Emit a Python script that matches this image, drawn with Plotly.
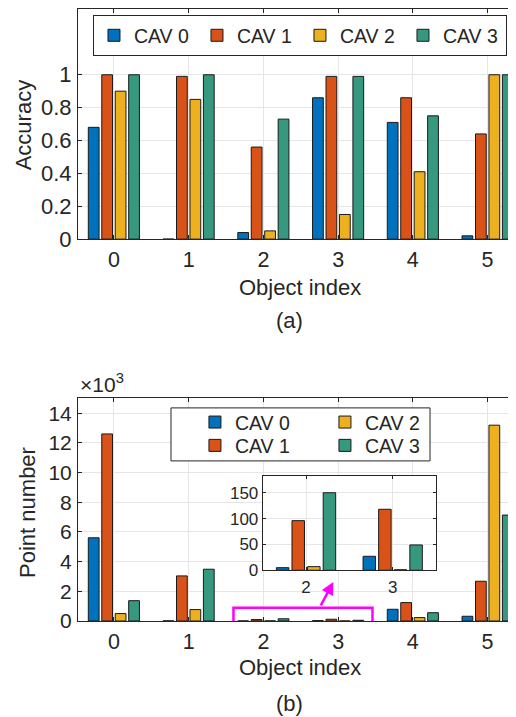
import plotly.graph_objects as go

objects = [0, 1, 2, 3, 4, 5]
cav_names = ["CAV 0", "CAV 1", "CAV 2", "CAV 3"]
colors = ["#0072BD", "#D95319", "#EDB120", "#36997F"]

acc_cav0 = [0.68, 0.0, 0.04, 0.86, 0.71, 0.02]
acc_cav1 = [1.0, 0.99, 0.56, 0.99, 0.86, 0.64]
acc_cav2 = [0.90, 0.85, 0.05, 0.15, 0.41, 1.0]
acc_cav3 = [1.0, 1.0, 0.73, 0.99, 0.75, 1.0]

pts_cav0 = [5610, 10, 5, 27, 790, 320]
pts_cav1 = [12610, 3040, 96, 118, 1240, 2680]
pts_cav2 = [500, 770, 7, 1, 230, 13200]
pts_cav3 = [1370, 3490, 150, 49, 560, 7140]

acc_ticks = [0, 0.2, 0.4, 0.6, 0.8, 1.0]
acc_ticktext = ["0", "0.2", "0.4", "0.6", "0.8", "1"]
pts_ticks_k = [0, 2, 4, 6, 8, 10, 12, 14]
inset_ticks = [0, 50, 100, 150]
inset_objects = [2, 3]

acc = [acc_cav0, acc_cav1, acc_cav2, acc_cav3]
pts = [pts_cav0, pts_cav1, pts_cav2, pts_cav3]

FONT = "Liberation Sans, Arial, Helvetica, sans-serif"
TXT = "#262626"
GRID = "#e6e6e6"

fig = go.Figure()
edge = dict(color="#1a1a1a", width=1)

for i in range(4):
    fig.add_trace(go.Bar(x=objects, y=acc[i], name=cav_names[i], marker=dict(color=colors[i], line=edge),
                         xaxis="x", yaxis="y", legend="legend", showlegend=True))
# bottom legend rows: row 1 -> CAV 0, CAV 2 ; row 2 -> CAV 1, CAV 3
bottom_legend = ["legend2", "legend3", "legend2", "legend3"]
for i in range(4):
    fig.add_trace(go.Bar(x=objects, y=[v / 1000 for v in pts[i]], name=cav_names[i],
                         marker=dict(color=colors[i], line=edge),
                         xaxis="x2", yaxis="y2", legend=bottom_legend[i], showlegend=True))
for i in range(4):
    fig.add_trace(go.Bar(x=objects, y=pts[i], name=cav_names[i], marker=dict(color=colors[i], line=edge),
                         xaxis="x3", yaxis="y3", showlegend=False))

def ax_common(size):
    return dict(showgrid=True, gridcolor=GRID, gridwidth=1, showline=True, linecolor=TXT, linewidth=1,
                ticks="inside", ticklen=4, tickcolor=TXT, zeroline=False,
                tickfont=dict(family=FONT, size=size, color=TXT))

leg_font = dict(family=FONT, size=19.5, color=TXT)

fig.update_layout(
    width=508, height=709,
    margin=dict(l=70, r=0, t=1, b=96.3),
    paper_bgcolor="white", plot_bgcolor="white",
    font=dict(family=FONT, color=TXT),
    barmode="group", bargap=0.28, bargroupgap=0.2,
    xaxis=dict(domain=[0, 1], anchor="y", range=[-0.48, 5.38], tickvals=objects, mirror="ticks",
               ticklabelstandoff=1, **ax_common(21.5)),
    yaxis=dict(domain=[0.624, 1], anchor="x", range=[0, 1.4], tickvals=acc_ticks, ticktext=acc_ticktext,
               ticklabelstandoff=1, **ax_common(22)),
    xaxis2=dict(domain=[0, 1], anchor="y2", range=[-0.48, 5.38], tickvals=objects, mirror="ticks",
                ticklabelstandoff=1, **ax_common(21.5)),
    yaxis2=dict(domain=[0, 0.3636], anchor="x2", range=[0, 15], tickvals=pts_ticks_k,
                ticklabelstandoff=1, **ax_common(21)),
    xaxis3=dict(domain=[0.4217, 0.8174], anchor="y3", range=[1.5, 3.5], tickvals=inset_objects,
                showgrid=True, gridcolor=GRID, showline=True, linecolor=TXT, mirror="ticks",
                ticks="inside", ticklen=3, tickcolor=TXT, zeroline=False, ticklabelstandoff=1,
                tickfont=dict(family=FONT, size=17, color=TXT)),
    yaxis3=dict(domain=[0.0829, 0.2366], anchor="x3", range=[0, 182], tickvals=inset_ticks,
                showgrid=True, gridcolor=GRID, showline=True, linecolor=TXT, mirror="ticks",
                ticks="inside", ticklen=3, tickcolor=TXT, zeroline=False,
                tickfont=dict(family=FONT, size=17, color=TXT)),
    legend=dict(orientation="h", x=0.0342, xanchor="left", y=0.99, yanchor="top",
                bordercolor=TXT, borderwidth=1, bgcolor="white", entrywidth=58, font=leg_font),
    legend2=dict(orientation="h", x=0.267, xanchor="left", y=0.3564, yanchor="top",
                 borderwidth=0, bgcolor="rgba(0,0,0,0)", entrywidth=85, font=leg_font),
    legend3=dict(orientation="h", x=0.267, xanchor="left", y=0.3183, yanchor="top",
                 borderwidth=0, bgcolor="rgba(0,0,0,0)", entrywidth=85, font=leg_font),
    showlegend=True,
)

# bottom legend frame
fig.add_shape(type="rect", xref="paper", yref="paper", x0=0.2123, x1=0.8037, y0=0.2616, y1=0.3482,
              line=dict(color=TXT, width=1), fillcolor="white", layer="above")

# magenta zoom box and arrow
fig.add_shape(type="rect", xref="x2", yref="y2", x0=1.6, x1=3.46, y0=-0.65, y1=0.9,
              line=dict(color="#FF00FF", width=2.5), layer="above")
fig.add_annotation(xref="x2", yref="y2", axref="x2", ayref="y2", x=2.936, y=2.63, ax=2.758, ay=0.95,
                   text="", showarrow=True, arrowhead=2, arrowsize=1, arrowwidth=2.5, arrowcolor="#FF00FF")

ann_font = dict(family=FONT, size=22, color=TXT)
def label(x, y, text, angle=0):
    fig.add_annotation(xref="paper", yref="paper", x=x, y=y, xanchor="center", yanchor="middle",
                       text=text, textangle=angle, showarrow=False, font=ann_font)

label(-0.1249, 0.8104, "Accuracy", -90)
label(-0.1142, 0.1782, "Point number", -90)
label(0.5068, 0.5455, "Object index")
label(0.5068, -0.0762, "Object index")
label(0.484, 0.4916, "(a)")
label(0.484, -0.135, "(b)")
fig.add_annotation(xref="paper", yref="paper", x=0.0, y=0.364, xanchor="left", yanchor="bottom",
                   text="\u00d710<sup>3</sup>", showarrow=False, font=dict(family=FONT, size=21, color=TXT))

fig.write_html("out.html")
